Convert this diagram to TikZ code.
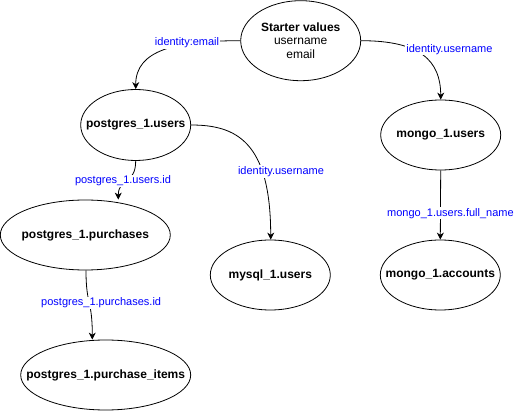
\documentclass[tikz,border=0pt]{standalone}
\usepackage{fontspec}
\setmainfont{Liberation Sans}
\usetikzlibrary{shapes.geometric,arrows.meta}
\definecolor{lblblue}{RGB}{0,0,255}
\begin{document}
\begin{tikzpicture}[x=1pt,y=-1pt,
  ent/.style={draw=black, line width=0.8pt, ellipse, inner sep=0pt},
  enttext/.style={font=\fontsize{12}{13.6}\selectfont\bfseries, align=center, inner sep=0pt},
  conn/.style={draw=black, line width=0.8pt, -{Stealth[length=7pt,width=7pt,inset=2.2pt]}},
  lbl/.style={fill=white, text=lblblue, inner sep=1pt, font=\fontsize{11}{13}\selectfont}
]
\useasboundingbox (0,0) rectangle (514,411);
\fill[white] (0,0) rectangle (514,411);

\node[ent, minimum width=120pt, minimum height=80pt,
  label={[enttext]center:Starter values\\\mdseries username\\\mdseries email}] (sv) at (300.7,40.7) {};
\node[ent, minimum width=110pt, minimum height=71pt,
  label={[enttext]center:postgres\_1.users}] (pu) at (135.7,125) {};
\node[ent, minimum width=120pt, minimum height=70pt,
  label={[enttext]center:mongo\_1.users}] (mu) at (440.7,135) {};
\node[ent, minimum width=170pt, minimum height=70pt,
  label={[enttext]center:postgres\_1.purchases}] (pp) at (85.3,235) {};
\node[ent, minimum width=120pt, minimum height=70pt,
  label={[enttext]center:mysql\_1.users}] (my) at (270.3,275) {};
\node[ent, minimum width=120pt, minimum height=70pt,
  label={[enttext]center:mongo\_1.accounts}] (ma) at (440.3,275) {};
\node[ent, minimum width=170pt, minimum height=70pt,
  label={[enttext]center:postgres\_1.purchase\_items}] (pi) at (105.7,375) {};

% Starter -> postgres_1.users
\draw[conn] (sv.west) .. controls +(-65,0) and +(0,-39) .. (pu.north)
  node[lbl, pos=0.3, xshift=-2pt, yshift=1pt] {identity:email};
% Starter -> mongo_1.users
\draw[conn] (sv.east) .. controls +(59,0) and +(0,-39) .. (mu.north)
  node[lbl, pos=0.42, xshift=33pt, yshift=2pt] {identity.username};
% postgres_1.users -> postgres_1.purchases
\draw[conn] (pu.south) .. controls +(0,24) and +(0,-22) .. ([xshift=33pt]pp.north)
  node[lbl, pos=0.5, xshift=-4pt] {postgres\_1.users.id};
% postgres_1.users -> mysql_1.users
\draw[conn] (pu.east) .. controls +(45,0) and +(0,-98) .. ([xshift=0.4pt]my.north)
  node[lbl, pos=0.7, xshift=19pt] {identity.username};
% mongo_1.users -> mongo_1.accounts
\draw[conn] (mu.south) -- (ma.north)
  node[lbl, pos=0.64, xshift=10pt, yshift=1.5pt] {mongo\_1.users.full\_name};
% postgres_1.purchases -> postgres_1.purchase_items
\draw[conn] ([xshift=0.7pt]pp.south) .. controls +(0,35) and +(0,-40) .. ([xshift=-13.4pt]pi.north)
  node[lbl, pos=0.5, xshift=12pt] {postgres\_1.purchases.id};
\end{tikzpicture}
\end{document}
